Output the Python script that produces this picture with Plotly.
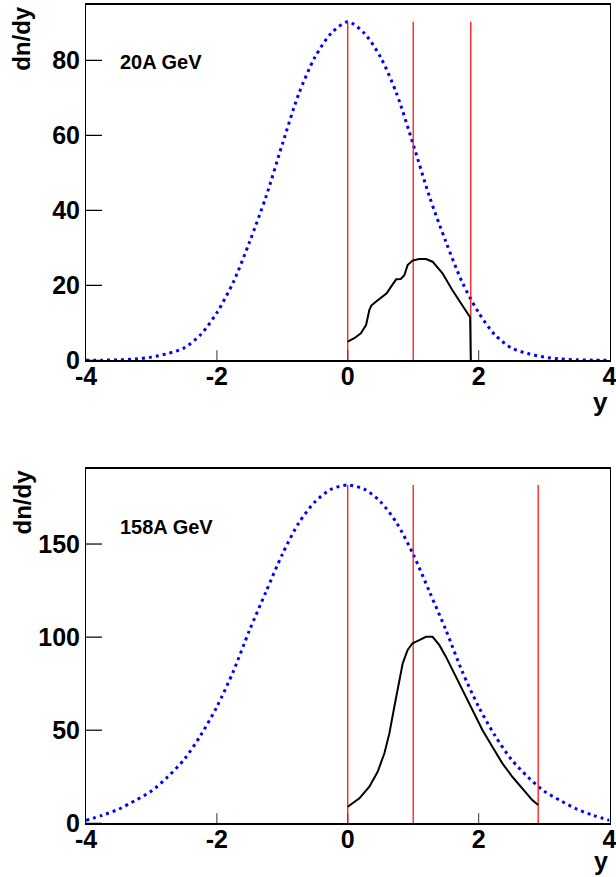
import plotly.graph_objects as go

# ---------------- data ----------------
# dotted reference curves, x grid and values
gx = [-4.0, -3.75, -3.5, -3.25, -3.0, -2.75, -2.5, -2.25, -2.0, -1.75, -1.5, -1.25, -1.0, -0.75, -0.5, -0.25,
      0.0, 0.25, 0.5, 0.75, 1.0, 1.25, 1.5, 1.75, 2.0, 2.25, 2.5, 2.75, 3.0, 3.25, 3.5, 3.75, 4.0]
g20 = [0.01, 0.04, 0.12, 0.35, 0.85, 1.8, 3.3, 6.8, 12.7, 20.8, 31.6, 43.6, 57.6, 71.0, 80.9, 87.3,
       90.3, 87.3, 80.9, 71.0, 57.6, 43.6, 31.6, 20.8, 12.7, 6.8, 3.3, 1.8, 0.85, 0.35, 0.12, 0.04, 0.01]
g158 = [1.6, 4.3, 7.6, 12.2, 17.3, 25.0, 34.3, 47.1, 62.6, 81.5, 103.8, 124.3, 144.5, 161.2, 172.7, 179.5,
        181.7, 179.5, 172.7, 161.2, 144.5, 124.3, 103.8, 81.5, 62.6, 47.1, 34.3, 25.0, 17.3, 12.2, 7.6, 4.3, 1.6]

# black model curves
x20 = [0.0, 0.10, 0.20, 0.28, 0.33, 0.36, 0.42, 0.48, 0.595, 0.66, 0.74, 0.81, 0.865, 0.915, 0.99,
       1.09, 1.195, 1.296, 1.448, 1.60, 1.753, 1.87, 1.88]
y20 = [5.0, 5.9, 7.2, 9.4, 13.4, 14.6, 15.5, 16.3, 17.9, 19.6, 21.6, 21.7, 22.7, 25.4, 26.6,
       27.0, 27.0, 26.3, 23.2, 18.7, 14.7, 11.5, 0.0]

x158 = [0.0, 0.178, 0.33, 0.457, 0.56, 0.636, 0.712, 0.778, 0.84, 0.915, 0.99, 1.093, 1.195, 1.296,
        1.398, 1.5, 1.60, 1.753, 1.905, 2.058, 2.21, 2.363, 2.515, 2.668, 2.82, 2.91]
y158 = [8.9, 13.4, 19.7, 27.7, 37.6, 48.3, 62.6, 75.2, 85.9, 93.1, 96.7, 98.4, 100.2, 100.2,
        95.8, 89.5, 82.3, 71.6, 60.9, 50.1, 41.1, 32.2, 25.0, 18.8, 12.5, 9.8]

# vertical marker lines (y = 0, 1, y_beam) and their heights
vlines20 = [0.0, 1.0, 1.88]
vtop20 = 90.3
vlines158 = [0.0, 1.0, 2.91]
vtop158 = 181.7

yticks20 = [0, 20, 40, 60, 80]
yticks158 = [0, 50, 100, 150]
xticks = [-4, -2, 0, 2, 4]
labels = ["20A GeV", "158A GeV"]

W, H = 616, 877
FONT = "Liberation Sans, Arial, Helvetica, sans-serif"

xl, xr = 86 / W, 609.5 / W
top_dom = [(H - 360.3) / H, (H - 5.3) / H]
bot_dom = [(H - 823.3) / H, (H - 469.0) / H]
XR = [-4, 4]
YR20 = [0, 94.7]
YR158 = [0, 190.3]

fig = go.Figure()


def add_panel(xa, ya, gvals, bx, by, vl, vtop, yt, yr, dom):
    # tick marks drawn inside the frame (ROOT style)
    px_per_x = (xr - xl) * W / (XR[1] - XR[0])
    px_per_y = (dom[1] - dom[0]) * H / (yr[1] - yr[0])
    ylen = 16 / px_per_x
    xlen = 10 / px_per_y
    tx, ty = [], []
    for t in yt:
        tx += [XR[0], XR[0] + ylen, None]
        ty += [t, t, None]
    fig.add_trace(go.Scatter(x=tx, y=ty, mode="lines", xaxis=xa, yaxis=ya,
                             line=dict(color="black", width=1.2), hoverinfo="skip", showlegend=False))
    tx, ty = [], []
    for t in xticks[1:-1]:
        tx += [t, t, None]
        ty += [yr[0], yr[0] + xlen, None]
    fig.add_trace(go.Scatter(x=tx, y=ty, mode="lines", xaxis=xa, yaxis=ya,
                             line=dict(color="#555555", width=1.2), hoverinfo="skip", showlegend=False))

    fig.add_trace(go.Scatter(x=gx, y=gvals, mode="lines", xaxis=xa, yaxis=ya,
                             line=dict(color="#0000ff", width=3, dash="3px,4px", shape="spline", smoothing=0.8),
                             hoverinfo="skip", showlegend=False))
    vx, vy = [], []
    for v in vl:
        vx += [v, v, None]
        vy += [0, vtop, None]
    fig.add_trace(go.Scatter(x=vx, y=vy, mode="lines", xaxis=xa, yaxis=ya,
                             line=dict(color="#ff0000", width=1.2),
                             hoverinfo="skip", showlegend=False))
    fig.add_trace(go.Scatter(x=bx, y=by, mode="lines", xaxis=xa, yaxis=ya,
                             line=dict(color="black", width=2),
                             hoverinfo="skip", showlegend=False))


add_panel("x", "y", g20, x20, y20, vlines20, vtop20, yticks20, YR20, top_dom)
add_panel("x2", "y2", g158, x158, y158, vlines158, vtop158, yticks158, YR158, bot_dom)

axfont = dict(family=FONT, size=25, color="black", weight="bold")


def xaxis(anchor):
    return dict(domain=[xl, xr], range=XR, anchor=anchor, tickvals=xticks,
                ticktext=[str(t) for t in xticks], ticks="",
                showline=True, linecolor="black", linewidth=1.5, mirror=True,
                showgrid=False, zeroline=False, tickfont=axfont, automargin=False,
                ticklabeloverflow="allow", ticklabelstandoff=-7)


def yaxis(dom, rng, tv, anchor):
    return dict(domain=dom, range=rng, anchor=anchor, tickvals=tv,
                ticktext=[str(t) for t in tv], ticks="",
                showline=True, linecolor="black", linewidth=1, mirror=True,
                showgrid=False, zeroline=False, tickfont=axfont, automargin=False,
                ticklabeloverflow="allow")


fig.update_layout(
    width=W, height=H, margin=dict(l=0, r=0, t=0, b=0),
    paper_bgcolor="white", plot_bgcolor="white",
    xaxis=xaxis("y"), yaxis=yaxis(top_dom, YR20, yticks20, "x"),
    xaxis2=xaxis("y2"), yaxis2=yaxis(bot_dom, YR158, yticks158, "x2"),
)

ann = []
for dom, lab, ylab in [(top_dom, labels[0], 62), (bot_dom, labels[1], 527)]:
    ann.append(dict(text="dn/dy", textangle=-90, x=22 / W, y=dom[1] + 1 / H, xref="paper", yref="paper",
                    xanchor="center", yanchor="top", showarrow=False,
                    font=dict(family=FONT, size=24, color="black", weight="bold")))
    ann.append(dict(text=lab, x=118 / W, y=(H - ylab) / H, xref="paper", yref="paper",
                    xanchor="left", yanchor="middle", showarrow=False,
                    font=dict(family=FONT, size=20, color="black", weight="bold")))
ann.append(dict(text="y", x=610 / W, y=(H - 402) / H, xref="paper", yref="paper",
                xanchor="right", yanchor="middle", showarrow=False,
                font=dict(family=FONT, size=26, color="black", weight="bold")))
ann.append(dict(text="y", x=610 / W, y=0, xref="paper", yref="paper",
                xanchor="right", yanchor="bottom", showarrow=False,
                font=dict(family=FONT, size=25, color="black", weight="bold")))
fig.update_layout(annotations=ann)

fig.write_html("out.html", config={"displayModeBar": False},
               post_script="document.body.style.margin='0';document.body.style.padding='0';"
                           "document.documentElement.style.overflow='hidden';")
